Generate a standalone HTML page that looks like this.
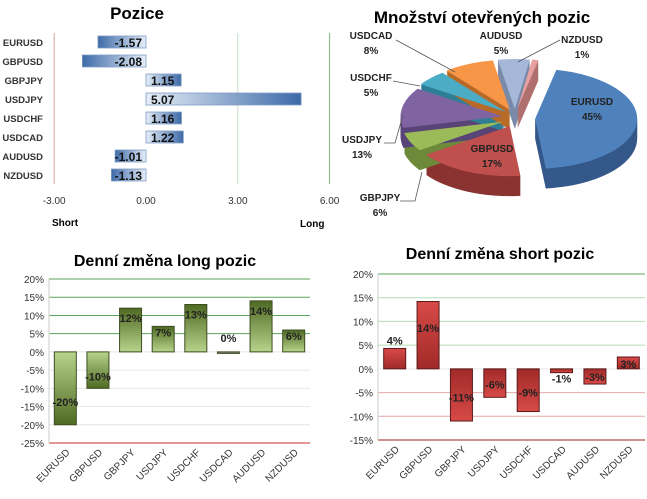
<!DOCTYPE html>
<html><head><meta charset="utf-8"><style>
html,body{margin:0;padding:0;background:#fff;}
svg{display:block;font-family:"Liberation Sans",sans-serif;}
</style></head><body>
<svg id="s" width="647" height="499" viewBox="0 0 647 499">
<defs>
<linearGradient id="bpos" x1="0" x2="1" y1="0" y2="0"><stop offset="0" stop-color="#e6eef8"/><stop offset="1" stop-color="#3d6aa8"/></linearGradient>
<linearGradient id="bneg" x1="0" x2="1" y1="0" y2="0"><stop offset="0" stop-color="#3d6aa8"/><stop offset="1" stop-color="#e6eef8"/></linearGradient>
<linearGradient id="gpos" x1="0" x2="0" y1="0" y2="1"><stop offset="0" stop-color="#4f6a22"/><stop offset="1" stop-color="#b8d48c"/></linearGradient>
<linearGradient id="gneg" x1="0" x2="0" y1="0" y2="1"><stop offset="0" stop-color="#b8d48c"/><stop offset="1" stop-color="#4f6a22"/></linearGradient>
<linearGradient id="rpos" x1="0" x2="0" y1="0" y2="1"><stop offset="0" stop-color="#d84a48"/><stop offset="1" stop-color="#a02a28"/></linearGradient>
<linearGradient id="rneg" x1="0" x2="0" y1="0" y2="1"><stop offset="0" stop-color="#a02a28"/><stop offset="1" stop-color="#d84a48"/></linearGradient>
</defs>
<text x="137" y="19" font-size="17" font-weight="bold" text-anchor="middle">Pozice</text>
<text x="482" y="23" font-size="17" font-weight="bold" text-anchor="middle">Množství otevřených pozic</text>
<text x="165" y="266" font-size="16" font-weight="bold" text-anchor="middle">Denní změna long pozic</text>
<text x="500" y="259" font-size="16" font-weight="bold" text-anchor="middle">Denní změna short pozic</text>
<g id="g1"></g><g id="g2"></g><g id="g3"></g><g id="g4"></g>
</svg>
<script>
const NS="http://www.w3.org/2000/svg";
function mk(p,t,a,txt){const e=document.createElementNS(NS,t);for(const k in a)e.setAttribute(k,a[k]);if(txt!==undefined)e.textContent=txt;p.appendChild(e);return e;}

// ---- Chart 1: Pozice
const posCats=["EURUSD","GBPUSD","GBPJPY","USDJPY","USDCHF","USDCAD","AUDUSD","NZDUSD"];
const posVals=[-1.57,-2.08,1.15,5.07,1.16,1.22,-1.01,-1.13];
const posTicks=[-3,0,3,6];
// ---- Chart 2: pie
const pieCats=["EURUSD","GBPUSD","GBPJPY","USDJPY","USDCHF","USDCAD","AUDUSD","NZDUSD"];
const pieVals=[45,17,6,13,5,8,5,1];
// ---- Chart 3: long change
const longCats=["EURUSD","GBPUSD","GBPJPY","USDJPY","USDCHF","USDCAD","AUDUSD","NZDUSD"];
const longVals=[-20,-10,12,7,13,-0.4,14,6];
const longLabels=["-20%","-10%","12%","7%","13%","0%","14%","6%"];
const longTicks=[20,15,10,5,0,-5,-10,-15,-20,-25];
// ---- Chart 4: short change
const shortCats=["EURUSD","GBPUSD","GBPJPY","USDJPY","USDCHF","USDCAD","AUDUSD","NZDUSD"];
const shortVals=[4.3,14.2,-11,-6,-9,-0.8,-3.2,2.5];
const shortLabels=["4%","14%","-11%","-6%","-9%","-1%","-3%","3%"];
const shortTicks=[20,15,10,5,0,-5,-10,-15];

(function(){
 const g=document.getElementById('g1');
 const x=v=>146+v*30.6, y0=42, dy=19;
 posTicks.forEach(t=>{
  const col=t===-3?'#d9a0a0':t===6?'#7ab87a':t===3?'#c8dcc8':'#ffffff';
  const l=mk(g,'line',{x1:x(t),x2:x(t),y1:33,y2:184,stroke:col,'stroke-width':1});
  
  
  const tx=mk(g,'text',{x:x(t),y:204,'font-size':10,'text-anchor':'middle',fill:'#333'},t.toFixed(2));
  
  
 });
 posCats.forEach((c,i)=>{
  const yc=y0+i*dy,v=posVals[i];
  const lb=mk(g,'text',{x:43,y:yc+4,'font-size':9.5,'font-weight':'bold','text-anchor':'end',fill:'#333'},c);
  
  
  const x1=Math.min(x(0),x(v)),w=Math.abs(x(v)-x(0));
  const r=mk(g,'rect',{x:x1,y:yc-6,width:w,height:12,fill:v<0?'url(#bneg)':'url(#bpos)',stroke:'#7f9cc4','stroke-width':0.8});
  
  
  const t=mk(g,'text',{x:v<0?x(0)-4:x(0)+5,y:yc+5,'font-size':12,'font-weight':'bold','text-anchor':v<0?'end':'start',fill:'#111'},v.toFixed(2));
  
  
 });
 const s=mk(g,'text',{x:52,y:226,'font-size':10,'font-weight':'bold'},'Short');
 
 const l=mk(g,'text',{x:300,y:227,'font-size':10,'font-weight':'bold'},'Long');
 
})();

(function(){
 const g=document.getElementById('g2');
 const cx=515,cy=118,rx=102,ry=50,depth=20,exp=9;
 const fills=['#4f81bd','#c0504d','#9bbb59','#8064a2','#4bacc6','#f79646','#a5b8d9','#e6a0a0'];
 const sides=['#35588a','#8a3331','#6d8a3a','#584476','#2f7f95','#b86a28','#7a8aa8','#b07070'];
 const tot=pieVals.reduce((a,b)=>a+b,0);
 let a=-78;
 const sl=[];
 pieVals.forEach((v,i)=>{const sw=v/tot*360;sl.push([a,a+sw]);a+=sw;});
 function path(a0,a1,ox,oy){
  const r=d=>d*Math.PI/180;
  const p=(d)=>[ox+rx*Math.cos(r(d)),oy+ry*Math.sin(r(d))];
  const [x0,y0]=p(a0),[x1,y1]=p(a1);
  return `M${ox},${oy} L${x0},${y0} A${rx},${ry} 0 ${a1-a0>180?1:0} 1 ${x1},${y1} Z`;
 }
 const offs=sl.map(([a0,a1],i)=>{const m=(a0+a1)/2*Math.PI/180;const e=i===0?exp*1.6:exp;return [cx+e*Math.cos(m)*1.4,cy+e*Math.sin(m)];});
 sl.forEach(([a0,a1],i)=>{
  for(let d=depth;d>0;d-=1){
   const p=mk(g,'path',{d:path(a0,a1,offs[i][0],offs[i][1]+d),fill:sides[i]});
   
   
  }
 });
 sl.forEach(([a0,a1],i)=>{
  const p=mk(g,'path',{d:path(a0,a1,offs[i][0],offs[i][1]),fill:fills[i]});
  
  
 });
 const lab=[[592,105],[492,152],[380,201],[362,143],[371,81],[371,39],[501,39],[582,43]];
 pieCats.forEach((c,i)=>{
  const [lx,ly]=lab[i];
  const t1=mk(g,'text',{x:lx,y:ly,'font-size':10,'font-weight':'bold','text-anchor':'middle',fill:'#222'},c);
  
  
  const t2=mk(g,'text',{x:lx,y:ly+15,'font-size':10,'font-weight':'bold','text-anchor':'middle',fill:'#222'},Math.round(pieVals[i]/tot*100)+'%');
  
  
 });
 const lines=[[400,201,415,201,422,172],[384,143,395,143,403,115],[393,81,420,86],[396,40,455,72],[560,40,518,62]];
 lines.forEach(pts=>{
  let d='M'+pts[0]+','+pts[1];for(let k=2;k<pts.length;k+=2)d+=' L'+pts[k]+','+pts[k+1];
  const p=mk(g,'path',{d:d,fill:'none',stroke:'#555','stroke-width':0.8});
  
  
 });
})();

function barChart(gid,cats,vals,labels,ticks,opt){
 const g=document.getElementById(gid);
 const top=opt.top,bot=opt.bot,x0=opt.x0,x1=opt.x1;
 const tmax=ticks[0],tmin=ticks[ticks.length-1];
 const y=v=>top+(tmax-v)/(tmax-tmin)*(bot-top);
 ticks.forEach(t=>{
  const l=mk(g,'line',{x1:x0,x2:x1,y1:y(t),y2:y(t),stroke:opt.grid(t),'stroke-width':1});
  
  
  const tx=mk(g,'text',{x:x0-5,y:y(t)+4,'font-size':10,'text-anchor':'end',fill:'#333'},t+'%');
  
  
 });
 const ax=mk(g,'line',{x1:x0,x2:x0,y1:top,y2:bot,stroke:'#ccc'});
 
 const step=(x1-x0)/cats.length;
 cats.forEach((c,i)=>{
  const cx=x0+step*(i+0.5),v=vals[i],bw=22;
  const ya=Math.min(y(0),y(v)),h=Math.max(Math.abs(y(v)-y(0)),1.5);
  const small=Math.abs(v)<1&&opt.p==='long';
  const r=mk(g,'rect',{x:cx-bw/2,y:ya,width:bw,height:h,fill:small?'#888':(v>=0?opt.fp:opt.fn),stroke:opt.st,'stroke-width':1});
  
  
  let ly;
  if(Math.abs(y(v)-y(0))<14){ly=v>=0?y(v)+11:y(v)+10;}
  else ly=v>=0?y(v)+14:y(v)-12;
  if(opt.p==='long'){
   if(small)ly=y(0)-10;
   else if(v<0)ly=i===0?y(v)-19:y(v)-8;
   else ly=y(v)+(Math.abs(y(v)-y(0))<30?10:14);
  }
  if(opt.p==='short'&&v<0&&Math.abs(y(v)-y(0))>=14)ly=y(v)*0.55+y(0)*0.45+4;
  if(opt.p==='short'&&v>=0&&Math.abs(y(v)-y(0))>=14)ly=(i===0?y(v)-4:(y(0)+y(v))/2-3);
  const t=mk(g,'text',{x:cx,y:ly,'font-size':11,'font-weight':'bold','text-anchor':'middle',fill:'#222'},labels[i]);
  
  
  const cl=mk(g,'text',{x:cx+5,y:bot+10,'font-size':10,'text-anchor':'end',fill:'#333',transform:`rotate(-45 ${cx+5} ${bot+10})`},c);
  
  
 });
}
barChart('g3',longCats,longVals,longLabels,longTicks,{p:'long',top:279,bot:443,x0:49,x1:310,fp:'url(#gpos)',fn:'url(#gneg)',st:'#3d4d22',
 grid:t=>t>0?'#5aa55a':t===-25?'#c03030':'#e6e6e6'});
barChart('g4',shortCats,shortVals,shortLabels,shortTicks,{p:'short',top:274,bot:440,x0:378,x1:645,fp:'url(#rpos)',fn:'url(#rneg)',st:'#5a1a1a',
 grid:t=>t===20?'#5aa55a':t>0?'#b8dcb8':t===-15?'#a02020':t<0?'#e4a8a8':'#e6e6e6'});
</script>
</body></html>
